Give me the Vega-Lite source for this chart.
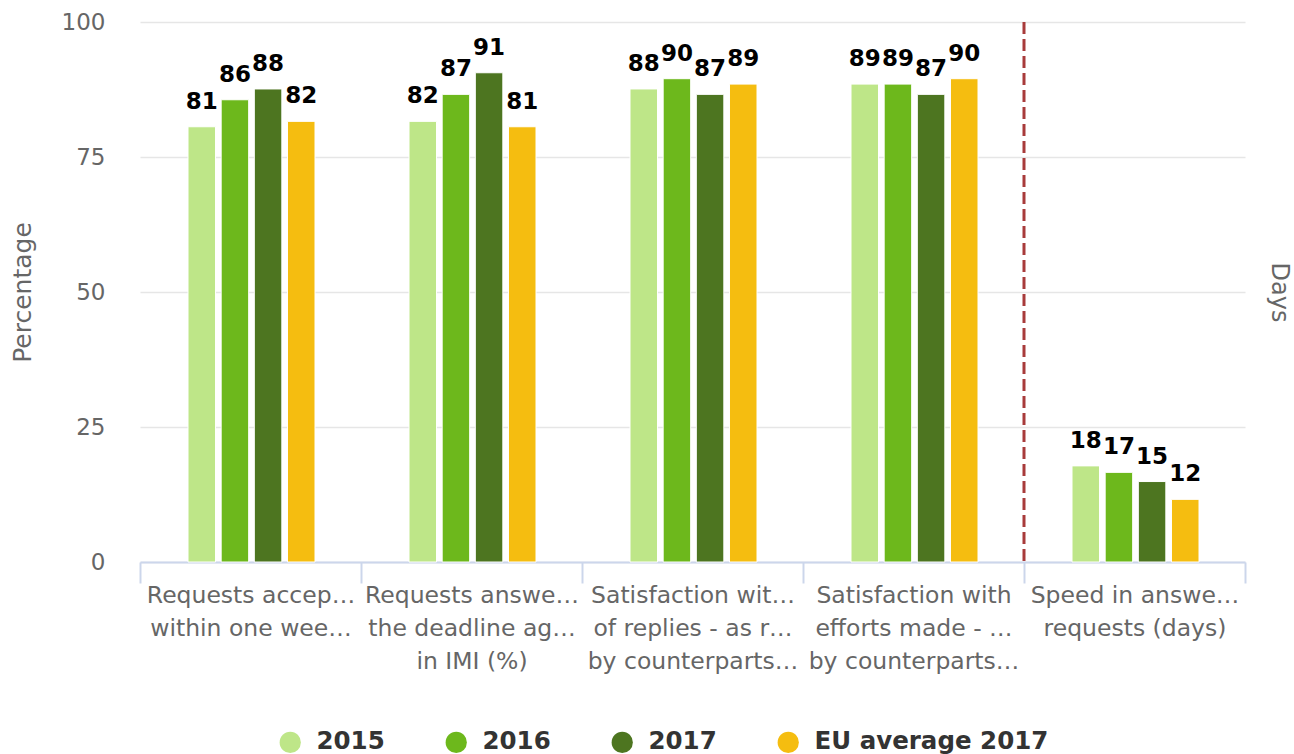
{
  "$schema": "https://vega.github.io/schema/vega-lite/v6.json",
  "autosize": {"type": "none"},
  "width": 1105,
  "height": 540,
  "padding": {"left": 140, "top": 22, "right": 49, "bottom": 192},
  "background": "white",
  "config": {
    "font": "DejaVu Sans",
    "view": {"stroke": null}
  },
  "datasets": {
    "bars": [
      {"cat": "Requests accepted within one week (%)", "series": "2015", "value": 80.6},
      {"cat": "Requests accepted within one week (%)", "series": "2016", "value": 85.6},
      {"cat": "Requests accepted within one week (%)", "series": "2017", "value": 87.6},
      {"cat": "Requests accepted within one week (%)", "series": "EU average 2017", "value": 81.6},
      {"cat": "Requests answered within the deadline agreed in IMI (%)", "series": "2015", "value": 81.6},
      {"cat": "Requests answered within the deadline agreed in IMI (%)", "series": "2016", "value": 86.6},
      {"cat": "Requests answered within the deadline agreed in IMI (%)", "series": "2017", "value": 90.6},
      {"cat": "Requests answered within the deadline agreed in IMI (%)", "series": "EU average 2017", "value": 80.6},
      {"cat": "Satisfaction with the quality of replies - as rated by counterparts (%)", "series": "2015", "value": 87.6},
      {"cat": "Satisfaction with the quality of replies - as rated by counterparts (%)", "series": "2016", "value": 89.5},
      {"cat": "Satisfaction with the quality of replies - as rated by counterparts (%)", "series": "2017", "value": 86.6},
      {"cat": "Satisfaction with the quality of replies - as rated by counterparts (%)", "series": "EU average 2017", "value": 88.5},
      {"cat": "Satisfaction with efforts made - as rated by counterparts (%)", "series": "2015", "value": 88.5},
      {"cat": "Satisfaction with efforts made - as rated by counterparts (%)", "series": "2016", "value": 88.5},
      {"cat": "Satisfaction with efforts made - as rated by counterparts (%)", "series": "2017", "value": 86.6},
      {"cat": "Satisfaction with efforts made - as rated by counterparts (%)", "series": "EU average 2017", "value": 89.5},
      {"cat": "Speed in answering requests (days)", "series": "2015", "value": 17.8},
      {"cat": "Speed in answering requests (days)", "series": "2016", "value": 16.6},
      {"cat": "Speed in answering requests (days)", "series": "2017", "value": 14.9},
      {"cat": "Speed in answering requests (days)", "series": "EU average 2017", "value": 11.6}
    ],
    "divider": [
      {"cat": "Speed in answering requests (days)"}
    ]
  },
  "layer": [
    {
      "layer": [
        {
          "data": {"name": "bars"},
          "mark": {"type": "bar", "stroke": "white", "strokeWidth": 1},
          "encoding": {
            "x": {
              "field": "cat", "type": "nominal", "sort": null,
              "scale": {
                "domain": [
                  "Requests accepted within one week (%)",
                  "Requests answered within the deadline agreed in IMI (%)",
                  "Satisfaction with the quality of replies - as rated by counterparts (%)",
                  "Satisfaction with efforts made - as rated by counterparts (%)",
                  "Speed in answering requests (days)"
                ],
                "paddingInner": 0, "paddingOuter": 0
              },
              "axis": {
                "title": null,
                "labelAngle": 0,
                "labelFontSize": 23.5,
                "labelColor": "#666666",
                "labelLineHeight": 33,
                "labelBaseline": "top",
                "labelPadding": 0,
                "labelLimit": 300,
                "domainColor": "#ccd6eb",
                "domainWidth": 2,
                "tickColor": "#ccd6eb",
                "tickWidth": 2,
                "tickSize": 21,
                "tickBand": "extent",
                "grid": false,
                "labelExpr": "datum.label == 'Requests accepted within one week (%)' ? ['Requests accep…', 'within one wee…'] : datum.label == 'Requests answered within the deadline agreed in IMI (%)' ? ['Requests answe…', 'the deadline ag…', 'in IMI (%)'] : datum.label == 'Satisfaction with the quality of replies - as rated by counterparts (%)' ? ['Satisfaction wit…', 'of replies - as r…', 'by counterparts…'] : datum.label == 'Satisfaction with efforts made - as rated by counterparts (%)' ? ['Satisfaction with', 'efforts made - …', 'by counterparts…'] : datum.label == 'Speed in answering requests (days)' ? ['Speed in answe…', 'requests (days)'] : ''"
              }
            },
            "xOffset": {
              "field": "series", "type": "nominal",
              "scale": {"paddingInner": 0.17, "paddingOuter": 0, "range": [48, 175]}
            },
            "y": {
              "field": "value", "type": "quantitative",
              "scale": {"domain": [0, 100], "nice": false},
              "axis": {
                "title": "Percentage",
                "titleFontSize": 25,
                "titleFontWeight": "normal",
                "titleColor": "#666666",
                "titlePadding": 26,
                "values": [0, 25, 50, 75, 100],
                "labelFontSize": 23,
                "labelColor": "#666666",
                "labelPadding": 35,
                "ticks": false,
                "tickSize": 0,
                "domain": false,
                "grid": true,
                "gridColor": "#e6e6e6",
                "gridWidth": 1.5
              }
            },
            "color": {
              "field": "series", "type": "nominal",
              "scale": {
                "domain": ["2015", "2016", "2017", "EU average 2017"],
                "range": ["#bee688", "#6db81c", "#4d7520", "#f5bd10"]
              },
              "legend": {
                "title": null,
                "orient": "none",
                "legendX": 138,
                "legendY": 708,
                "direction": "horizontal",
                "symbolType": "circle",
                "symbolSize": 450,
                "symbolStrokeWidth": 0,
                "labelFontSize": 24.5,
                "labelFontWeight": "bold",
                "labelColor": "#333333",
                "labelOffset": 14,
                "labelLimit": 400,
                "columnPadding": 59
              }
            }
          }
        },
        {
          "data": {"name": "bars"},
          "mark": {"type": "text", "fontSize": 23, "fontWeight": "bold", "color": "#000000", "baseline": "alphabetic", "dy": -18},
          "encoding": {
            "x": {"field": "cat", "type": "nominal", "sort": null},
            "xOffset": {"field": "series", "type": "nominal"},
            "y": {"field": "value", "type": "quantitative"},
            "text": {"field": "value", "type": "quantitative", "format": ".0f"}
          }
        },
        {
          "data": {"name": "divider"},
          "mark": {"type": "rule", "color": "#a83b3b", "strokeWidth": 3, "strokeDash": [12, 5]},
          "encoding": {
            "x": {"field": "cat", "type": "nominal", "sort": null, "bandPosition": 0}
          }
        }
      ]
    },
    {
      "data": {"name": "divider"},
      "mark": {"type": "rule", "opacity": 0},
      "encoding": {
        "y": {
          "datum": 0, "type": "quantitative",
          "scale": {"domain": [0, 100], "nice": false},
          "axis": {
            "orient": "right",
            "title": "Days",
            "titleFontSize": 24,
            "titleFontWeight": "normal",
            "titleColor": "#666666",
            "titlePadding": 21,
            "labels": false,
            "ticks": false,
            "domain": false,
            "grid": false
          }
        }
      }
    }
  ],
  "resolve": {"scale": {"y": "independent"}}
}
